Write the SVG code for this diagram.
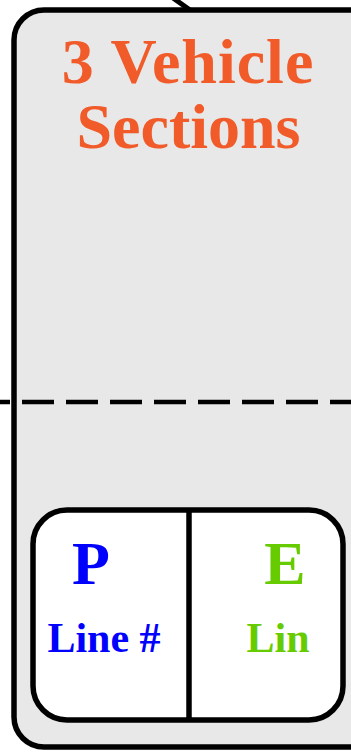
<svg xmlns="http://www.w3.org/2000/svg" width="351" height="752" viewBox="0 0 351 752">
<style>
.edge{stroke:#000;stroke-width:5;fill:none}
.t{font-family:"Liberation Serif","Times New Roman",serif;font-weight:bold;text-anchor:middle}
.title{fill:#F15A29;font-size:64px}
.big{font-size:62px}
.small{font-size:42px}
.p{fill:#0000FF}
.e{fill:#66CC00}
</style>
<g id="connectors">
<line class="edge" x1="173" y1="-2" x2="190" y2="10"/>
</g>
<g id="vehicle-sections">
<rect x="14" y="10" width="370" height="737" rx="30" ry="30" fill="#E8E8E8" stroke="#000" stroke-width="5.5"/>
<text class="t title" x="188" y="83" letter-spacing="1">3 Vehicle</text>
<text class="t title" x="188.5" y="148">Sections</text>
</g>
<g id="divider">
<line x1="-22" y1="402" x2="360" y2="402" stroke="#000" stroke-width="4.5" stroke-dasharray="32 12"/>
</g>
<g id="pe-box">
<rect x="33" y="510" width="310" height="210" rx="34" ry="34" fill="#FFFFFF" stroke="#000" stroke-width="5.5"/>
<line x1="189" y1="510" x2="189" y2="720" stroke="#000" stroke-width="5.5"/>
<text class="t big p" x="91" y="584">P</text>
<text class="t small p" x="104" y="652">Line #</text>
<text class="t big e" x="285" y="584">E</text>
<text class="t small e" x="278" y="652">Lin</text>
</g>
</svg>
